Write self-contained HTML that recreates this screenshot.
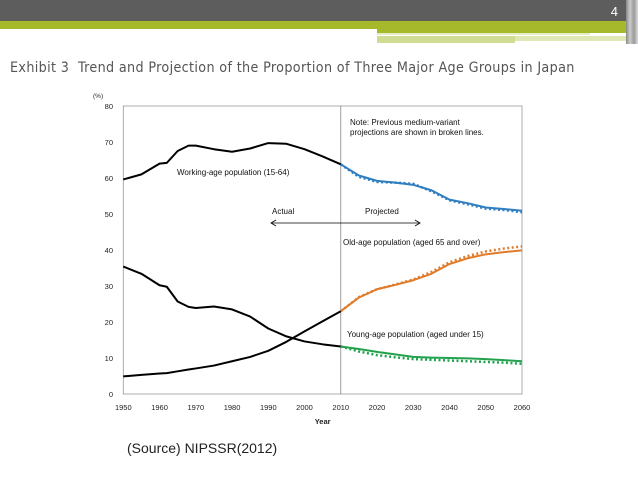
<!DOCTYPE html>
<html><head><meta charset="utf-8"><style>
body{margin:0;width:638px;height:479px;background:#fff;overflow:hidden;position:relative;font-family:"Liberation Sans",sans-serif}
.t{position:absolute}
</style></head><body>
<div class="t" style="left:0;top:0;width:638px;height:21px;background:#5d5d5d"></div>
<div class="t" style="left:0;top:21px;width:638px;height:8px;background:#a6b92b"></div>
<div class="t" style="left:377px;top:29px;width:261px;height:4px;background:#a6b92b"></div>
<div class="t" style="left:377px;top:33px;width:213px;height:2px;background:#e6edc4"></div>
<div class="t" style="left:377px;top:36px;width:138px;height:7px;background:#cfdc94"></div>
<div class="t" style="left:515px;top:36px;width:113px;height:5px;background:#dfe8b4"></div>
<div class="t" style="left:626px;top:0;width:12px;height:44px;background:linear-gradient(90deg,#888,#ccc,#999,#ddd)"></div>
<div class="t" style="left:598px;top:4px;width:20px;text-align:right;color:#fff;font-size:13px">4</div>
<div class="t" style="left:10px;top:60px;color:#555;font-size:14.2px;letter-spacing:0.35px;white-space:nowrap;font-family:'DejaVu Sans Condensed','Liberation Sans Narrow',sans-serif">Exhibit 3&nbsp; Trend and Projection of the Proportion of Three Major Age Groups in Japan</div>
<div class="t" style="left:127px;top:440px;font-size:14px;color:#222">(Source) NIPSSR(2012)</div>
<svg class="t" style="left:0;top:0" width="638" height="479" id="c"></svg>
<script>
const years=[1950,1955,1960,1962,1965,1968,1970,1975,1980,1985,1990,1995,2000,2005,2010];
const working=[59.6,61,64,64.2,67.5,69,69,68,67.3,68.2,69.7,69.5,68,66,63.8];
const young=[35.4,33.4,30.2,29.8,25.7,24.2,23.9,24.3,23.5,21.5,18.2,16,14.6,13.8,13.2];
const old=[4.9,5.3,5.7,5.8,6.3,6.8,7.1,7.9,9.1,10.3,12,14.5,17.4,20.2,23];
const pyears=[2010,2015,2020,2025,2030,2035,2040,2045,2050,2055,2060];
const workingP=[63.8,60.7,59.2,58.7,58.1,56.6,54,53,51.8,51.4,50.9];
const workingPrev=[63.8,60.3,58.9,58.7,58.4,56.3,53.8,52.7,51.5,51.1,50.5];
const oldP=[23,26.8,29.1,30.3,31.6,33.4,36.1,37.7,38.8,39.4,39.9];
const oldPrev=[23,26.9,29.1,30.4,31.8,33.9,36.6,38.3,39.6,40.4,41];
const youngP=[13.2,12.5,11.7,11,10.3,10.1,10,9.9,9.7,9.4,9.1];
const youngPrev=[13.2,11.8,10.8,10.2,9.7,9.5,9.3,9.1,8.9,8.7,8.4];
const yTicks=[0,10,20,30,40,50,60,70,80];
const xTicks=[1950,1960,1970,1980,1990,2000,2010,2020,2030,2040,2050,2060];
const NS='http://www.w3.org/2000/svg';
const svg=document.getElementById('c');
const X=v=>123.3+(v-1950)/110*398.7;
const Y=v=>394-v*3.6;
function el(t,a,txt){const e=document.createElementNS(NS,t);for(const k in a)e.setAttribute(k,a[k]);if(txt!==undefined)e.textContent=txt;svg.appendChild(e);return e;}
let e=el('rect',{x:X(1950),y:Y(80),width:X(2060)-X(1950),height:Y(0)-Y(80),fill:'none',stroke:'#999','stroke-width':0.8});


e=el('line',{x1:X(2010),x2:X(2010),y1:Y(80),y2:Y(0),stroke:'#888','stroke-width':0.8});


yTicks.forEach(v=>{const t=el('text',{x:113,y:Y(v)+3,'text-anchor':'end','font-size':7.5,fill:'#222'},v);

});
xTicks.forEach(v=>{const t=el('text',{x:X(v),y:410,'text-anchor':'middle','font-size':7.5,fill:'#222'},v);

});
e=el('text',{x:X(2005),y:424,'text-anchor':'middle','font-size':7.5,'font-weight':'bold',fill:'#222'},'Year');


e=el('text',{x:93,y:98,'font-size':6.5,fill:'#222'},'(%)');


function line(xs,ys,color,name,dash,w){const p=el('polyline',{points:xs.map((x,i)=>X(x)+','+Y(ys[i])).join(' '),fill:'none',stroke:color,'stroke-width':w||2,'stroke-linejoin':'round'});
if(dash)p.setAttribute('stroke-dasharray',dash);

}
line(pyears,workingPrev,'#2f7ec1','working-previous-line','2 2.5',2.5);
line(pyears,oldPrev,'#e07b2a','old-previous-line','2 2.5',2.5);
line(pyears,youngPrev,'#23a24d','young-previous-line','2 2.5',2.5);
line(years,working,'#000','working-actual-line');
line(years,young,'#000','young-actual-line');
line(years,old,'#000','old-actual-line');
line(pyears,workingP,'#2f7ec1','working-projected-line');
line(pyears,oldP,'#e07b2a','old-projected-line');
line(pyears,youngP,'#23a24d','young-projected-line');
function lab(x,y,s,name){const t=el('text',{x:x,y:y,'font-size':8,fill:'#111'},s);

}
lab(350,125,'Note: Previous medium-variant','note-line-1');
lab(350,135,'projections are shown in broken lines.','note-line-2');
lab(177,175,'Working-age population (15-64)','working-label');
lab(272,214,'Actual','actual-label');
lab(365,214,'Projected','projected-label');
lab(343,245,'Old-age population (aged 65 and over)','old-label');
lab(347,337,'Young-age population (aged under 15)','young-label');
e=el('line',{x1:271,x2:420,y1:223,y2:223,stroke:'#000','stroke-width':0.8});


e=el('path',{d:'M276,220 L271,223 L276,226 M415,220 L420,223 L415,226',fill:'none',stroke:'#000','stroke-width':0.8});


</script>
</body></html>
